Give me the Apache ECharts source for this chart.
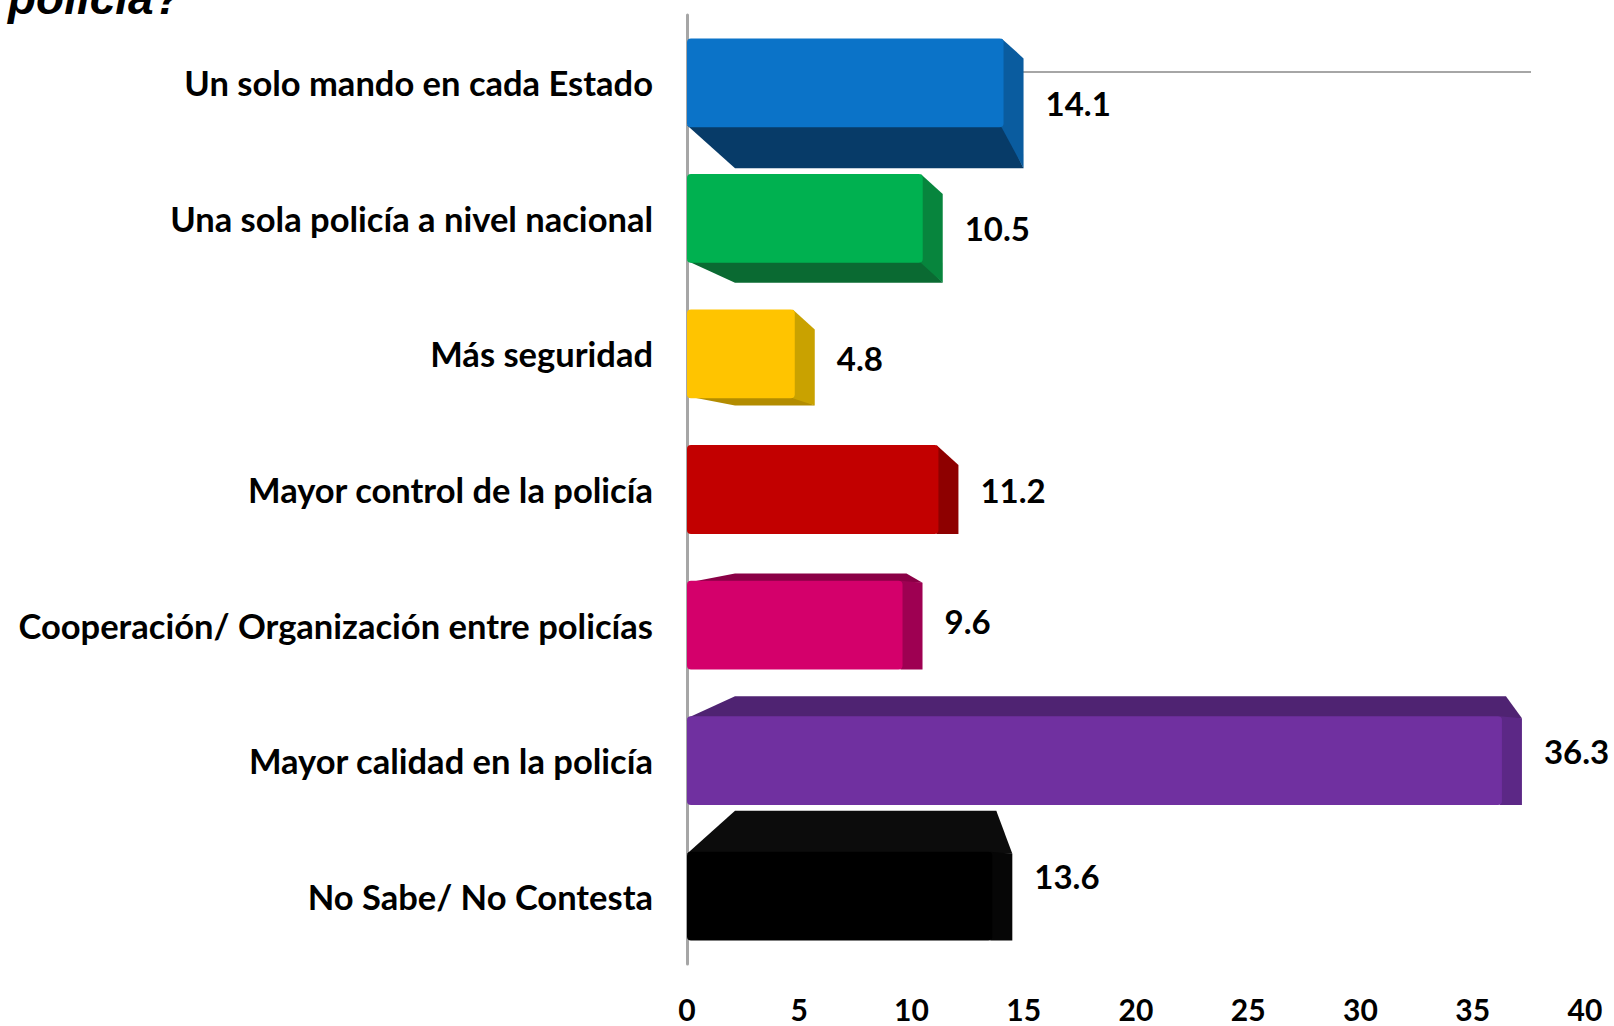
<!DOCTYPE html>
<html>
<head>
<meta charset="utf-8">
<title>policía</title>
<script src="https://cdn.jsdelivr.net/npm/echarts@6/dist/echarts.min.js"></script>
<style>
  html, body { margin: 0; padding: 0; background: #fff; }
  #chart { width: 1614px; height: 1026px; }
</style>
</head>
<body>
<div id="chart"></div>
<script>
(function () {

  'use strict';

  var categories = [
    'Un solo mando en cada Estado',
    'Una sola policía a nivel nacional',
    'Más seguridad',
    'Mayor control de la policía',
    'Cooperación/ Organización entre policías',
    'Mayor calidad en la policía',
    'No Sabe/ No Contesta'
  ];
  var values = [14.1, 10.5, 4.8, 11.2, 9.6, 36.3, 13.6];
  var xTicks = [0, 5, 10, 15, 20, 25, 30, 35, 40];

  // front / darker extruded face / right side
  var palette = [
    {front: '#0B73C8', dark: '#073B68', side: '#0A5C9F'},
    {front: '#00B150', dark: '#0A6A32', side: '#07853D'},
    {front: '#FFC400', dark: '#B38C00', side: '#C9A200'},
    {front: '#C20000', dark: '#7C0000', side: '#8E0000'},
    {front: '#D4006B', dark: '#8A0046', side: '#9E0052'},
    {front: '#7030A0', dark: '#4F2372', side: '#5C2886'},
    {front: '#000000', dark: '#0C0C0C', side: '#060606'}
  ];

  var font = 'Lato, "Open Sans", sans-serif';

  function renderBar(params, api) {
    var i = api.value(1);
    var v = api.value(0);
    var p0 = api.coord([0, i]);
    var p1 = api.coord([v, i]);
    var band = api.size([0, 1])[1];
    var f = band * 0.655;
    var top = p0[1] - f / 2;
    var bot = top + f;
    var d = i - (categories.length - 1) / 2;
    var depth = d === 0 ? 0 : (3 + 4.2 * d * d) * band / 135;
    var shift = 48, sw = 20;
    var x0 = p0[0], x1 = p1[0];
    var c = palette[i];
    var kids = [];

    if (d < 0) {
      kids.push({type: 'polygon', shape: {points: [[x0, bot - 2], [x1, bot - 2], [x1 + sw, bot + depth], [x0 + shift, bot + depth]]},
        style: {fill: c.dark}});
    } else if (d > 0) {
      kids.push({type: 'polygon', shape: {points: [[x0 + shift, top - depth], [x1 + 4, top - depth], [x1 + sw, top + 2], [x0, top + 2]]},
        style: {fill: c.dark}});
    }
    kids.push({type: 'polygon', shape: {points: [[x1 - 2, top], [x1 + sw, top + (d > 0 ? 2 : sw)], [x1 + sw, bot + (d < 0 ? depth : 0)], [x1 - 2, bot]]},
      style: {fill: c.side}});
    kids.push({type: 'rect', shape: {x: x0, y: top, width: x1 - x0, height: f, r: 4},
      style: {fill: c.front}});

    var ly = (top + bot) / 2 + (d < 0 ? depth / 2 : -depth / 2);
    kids.push({type: 'text', style: {text: String(v), x: x1 + 42, y: ly,
      verticalAlign: 'middle', align: 'left',
      font: 'bold 33px ' + font, fill: '#000'}});

    return {type: 'group', children: kids};
  }

  var chart = echarts.init(document.getElementById('chart'), null, {renderer: 'svg'});

  var option = {
    animation: false,
    backgroundColor: '#fff',
    title: {
      text: 'policía?',
      left: 3,
      top: -30,
      textStyle: {fontFamily: '"Liberation Sans", Arial, sans-serif', fontStyle: 'italic', fontWeight: 'bold', fontSize: 46, color: '#000'}
    },
    graphic: [
      {type: 'line', shape: {x1: 1010, y1: 72, x2: 1531, y2: 72}, style: {stroke: '#A6A6A6', lineWidth: 2}, z: -1}
    ],
    grid: {left: 687, right: 29, top: 15, bottom: 62},
    xAxis: {
      type: 'value',
      min: xTicks[0],
      max: xTicks[xTicks.length - 1],
      interval: 5,
      axisLine: {show: false},
      axisTick: {show: false},
      splitLine: {show: false},
      axisLabel: {margin: 30, fontFamily: font, fontWeight: 'bold', fontSize: 30, color: '#000'}
    },
    yAxis: {
      type: 'category',
      inverse: true,
      data: categories,
      axisLine: {show: true, lineStyle: {color: '#A6A6A6', width: 3}},
      axisTick: {show: false},
      axisLabel: {margin: 34, fontFamily: font, fontWeight: 'bold', fontSize: 34.5, color: '#000'}
    },
    series: [{
      type: 'custom',
      renderItem: renderBar,
      encode: {x: 0, y: 1},
      data: values.map(function (v, i) { return [v, i]; })
    }]
  };

  chart.setOption(option);

})();
</script>
</body>
</html>
